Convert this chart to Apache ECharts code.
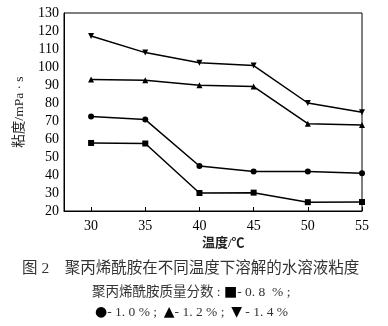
<!DOCTYPE html>
<html><head><meta charset="utf-8">
<script src="https://cdn.jsdelivr.net/npm/echarts@6/dist/echarts.min.js"></script>
<style>html,body{margin:0;padding:0;background:#fff}#c{width:388px;height:326px}</style>
</head><body><div id="c"></div>
<script>
const temps = [30, 35, 40, 45, 50, 55];
const xTicks = [30, 35, 40, 45, 50, 55];
const s08 = [57.8, 57.5, 30, 30.2, 24.9, 25];
const s10 = [72.5, 70.8, 45, 42, 42, 41];
const s12 = [93, 92.6, 89.8, 89.1, 68.5, 67.8];
const s14 = [117.2, 108, 102.4, 100.8, 80, 74.8];
const yTicks = [20, 30, 40, 50, 60, 70, 80, 90, 100, 110, 120, 130];

const serif = '"Liberation Serif","Noto Sans CJK SC",serif';
function mk(vals, symbol, rot, size) {
  return {
    type: 'line', data: temps.map((t, i) => [t, vals[i]]),
    symbol: symbol, symbolRotate: rot, symbolSize: size, showSymbol: true,
    lineStyle: { color: '#000', width: 1.5 }, itemStyle: { color: '#000' },
    animation: false
  };
}
const txt = { fontFamily: serif, fontSize: 13.5, fill: '#333' };
const sym = { fontFamily: '"DejaVu Sans",sans-serif', fontSize: 14, fill: '#000' };
const chart = echarts.init(document.getElementById('c'), null, { renderer: 'canvas' });
chart.setOption({
  backgroundColor: '#fff',
  animation: false,
  grid: { left: 64, right: 26, top: 13, bottom: 115, show: true, borderColor: '#000', borderWidth: 1 },
  xAxis: {
    type: 'value', min: 27.5, max: 55,
    axisLine: { show: true, lineStyle: { color: '#000', width: 1 } },
    axisTick: { show: true, inside: true, length: 4, lineStyle: { color: '#000' }, customValues: xTicks },
    axisLabel: { customValues: xTicks, color: '#000', fontFamily: serif, fontSize: 14, margin: 8 },
    splitLine: { show: false }
  },
  yAxis: {
    type: 'value', min: 20, max: 130, interval: 10,
    name: '粘度/mPa · s', nameLocation: 'middle', nameGap: 38, nameRotate: 90,
    nameTextStyle: { color: '#222', fontFamily: serif, fontSize: 13.5 },
    axisLine: { show: true, lineStyle: { color: '#000', width: 1 } },
    axisTick: { show: false },
    axisLabel: { color: '#000', fontFamily: serif, fontSize: 14, margin: 5 },
    splitLine: { show: false }
  },
  series: [
    mk(s08, 'rect', 0, 6),
    mk(s10, 'circle', 0, 6),
    mk(s12, 'triangle', 0, 6),
    mk(s14, 'triangle', 180, 6)
  ],
  graphic: [
    { type: 'text', left: 202, top: 237, style: { text: '温度/℃', font: 'bold 13px ' + serif, fill: '#222' } },
    { type: 'text', left: 22, top: 261, style: { text: '图 2    聚丙烯酰胺在不同温度下溶解的水溶液粘度', font: '15.5px ' + serif, fill: '#333' } },
    { type: 'text', left: 92, top: 285, style: {
        text: '{t|聚丙烯酰胺质量分数 : }{s|■}{t|- 0. 8  % ;}',
        rich: { t: txt, s: sym } } },
    { type: 'text', left: 95, top: 305, style: {
        text: '{s|●}{t|- 1. 0 % ;  }{s|▲}{t|- 1. 2 % ;  }{s|▼}{t| - 1. 4 %}',
        rich: { t: txt, s: sym } } }
  ]
});
</script></body></html>
